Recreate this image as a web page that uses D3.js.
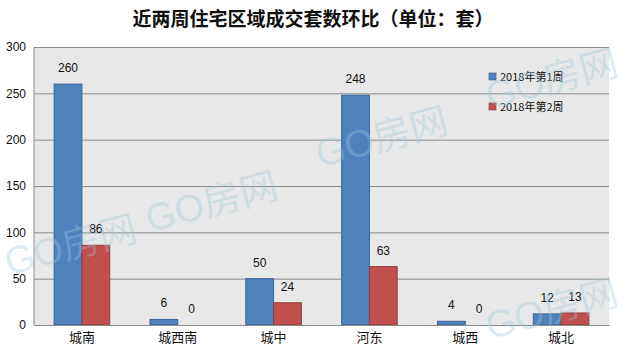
<!DOCTYPE html>
<html>
<head>
<meta charset="utf-8">
<script src="https://cdn.jsdelivr.net/npm/d3@7"></script>
<style>
  html, body { margin: 0; padding: 0; background: #fff; }
  svg { display: block; font-family: "Liberation Sans", "Noto Sans CJK SC", sans-serif; }
  .title { font-family: "Noto Sans CJK SC", sans-serif; font-weight: bold; font-size: 19px; fill: #111; }
  .axis text { font-size: 12px; fill: #111; }
  .axis--x text { font-family: "Noto Sans CJK SC", sans-serif; font-size: 13px; }
  .value { font-size: 12px; fill: #111; }
  .legend text { font-family: "Noto Sans CJK SC", sans-serif; font-size: 11px; fill: #111; }
  .mark { font-family: "Liberation Sans", "Noto Sans CJK SC", sans-serif; font-size: 38px; fill: #9cc8dc; fill-opacity: 0.35; }
</style>
</head>
<body>
<div id="chart"></div>
<script>
// Weekly transaction counts by district, two consecutive weeks
const categories = ["城南", "城西南", "城中", "河东", "城西", "城北"];
const week1 = [260, 6, 50, 248, 4, 12];
const week2 = [86, 0, 24, 63, 0, 13];
const seriesNames = ["2018年第1周", "2018年第2周"];
const yTicks = [0, 50, 100, 150, 200, 250, 300];

const WIDTH = 626;
const HEIGHT = 350;
const MARGIN = { top: 47, right: 17, bottom: 25, left: 34 };
const INNER_W = WIDTH - MARGIN.left - MARGIN.right;
const INNER_H = HEIGHT - MARGIN.top - MARGIN.bottom;

const FILL = ["#4f81bd", "#c0504d"];
const STROKE = ["#3b6596", "#93403d"];

const svg = d3.select("#chart").append("svg")
    .attr("width", WIDTH).attr("height", HEIGHT);

svg.append("text")
    .attr("class", "title")
    .attr("x", WIDTH / 2).attr("y", 26)
    .attr("text-anchor", "middle")
    .text("近两周住宅区域成交套数环比（单位：套）");

const g = svg.append("g")
    .attr("transform", `translate(${MARGIN.left},${MARGIN.top})`);

const x = d3.scaleBand().domain(categories).range([0, INNER_W]).paddingInner(0).paddingOuter(0);
const xSub = d3.scaleBand().domain([0, 1]).range([x.bandwidth() * 0.21, x.bandwidth() * 0.79]);
const y = d3.scaleLinear().domain([0, 300]).range([INNER_H, 0]);

// plot background
g.append("rect")
    .attr("width", INNER_W).attr("height", INNER_H)
    .attr("fill", "#e8e8e8");

// gridlines + y axis
const yAxis = g.append("g")
    .attr("class", "axis axis--y")
    .call(d3.axisLeft(y).tickValues(yTicks).tickSize(-INNER_W).tickPadding(8));
yAxis.select(".domain").remove();
yAxis.selectAll(".tick line").attr("stroke", "#8a8a8a");

// left axis line
g.append("line")
    .attr("x1", 0).attr("x2", 0).attr("y1", 0).attr("y2", INNER_H)
    .attr("stroke", "#8a8a8a");

const data = categories.map((c, i) => ({ cat: c, vals: [week1[i], week2[i]] }));

const groups = g.selectAll("g.grp").data(data).join("g")
    .attr("class", "grp")
    .attr("transform", (d) => `translate(${x(d.cat)},0)`);

groups.selectAll("rect").data((d) => d.vals.map((v, k) => ({ v, k }))).join("rect")
    .attr("x", (d) => xSub(d.k))
    .attr("y", (d) => y(d.v))
    .attr("width", xSub.bandwidth())
    .attr("height", (d) => INNER_H - y(d.v))
    .attr("fill", (d) => FILL[d.k])
    .attr("stroke", (d) => (d.v > 0 ? STROKE[d.k] : "none"))
    .attr("stroke-width", 1);

groups.selectAll("text.value").data((d) => d.vals.map((v, k) => ({ v, k }))).join("text")
    .attr("class", "value")
    .attr("x", (d) => xSub(d.k) + xSub.bandwidth() / 2)
    .attr("y", (d) => y(d.v) - 12)
    .attr("text-anchor", "middle")
    .text((d) => d.v);

// x axis
const xAxis = g.append("g")
    .attr("class", "axis axis--x")
    .attr("transform", `translate(0,${INNER_H})`)
    .call(d3.axisBottom(x).tickSize(0).tickPadding(8));
xAxis.select(".domain").attr("stroke", "#8a8a8a");

// legend
const legend = g.append("g").attr("class", "legend")
    .attr("transform", `translate(${455},${26})`);
seriesNames.forEach((name, k) => {
    const item = legend.append("g").attr("transform", `translate(0,${k * 30})`);
    item.append("rect")
        .attr("width", 7).attr("height", 7)
        .attr("fill", FILL[k]).attr("stroke", STROKE[k]).attr("stroke-width", 0.7);
    item.append("text").attr("x", 11).attr("y", 7.5).text(name);
});

// watermark
const marks = [[74, 258], [215, 215], [385, 150], [555, 92], [555, 322]];
svg.append("g").selectAll("text").data(marks).join("text")
    .attr("class", "mark")
    .attr("text-anchor", "middle")
    .attr("transform", (d) => `translate(${d[0]},${d[1]}) rotate(-15)`)
    .text("GO房网");
</script>
</body>
</html>
